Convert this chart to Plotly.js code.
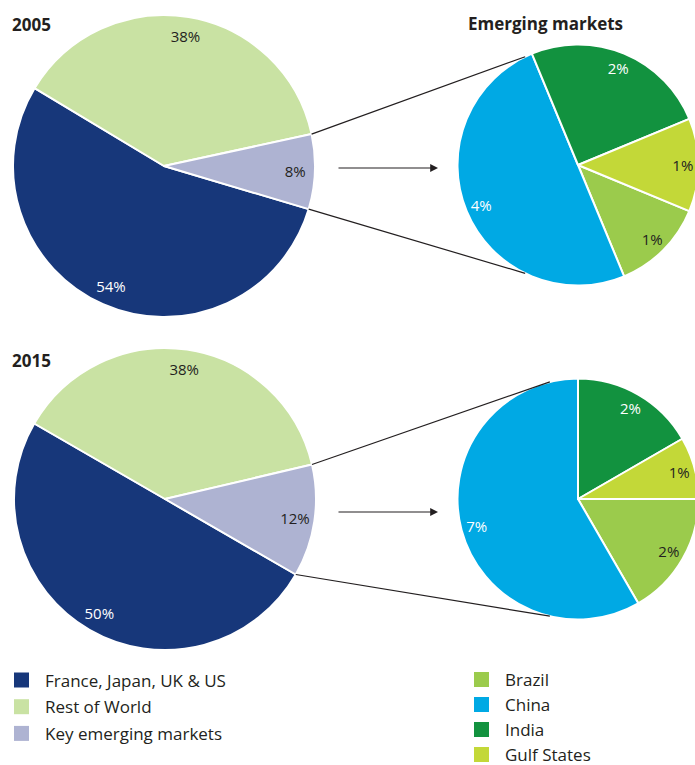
<!DOCTYPE html>
<html>
<head>
<meta charset="utf-8">
<script src="https://cdn.plot.ly/plotly-3.0.1.min.js"></script>
<style>
  html, body { margin: 0; padding: 0; overflow: hidden; background: #fff; }
</style>
</head>
<body>
<div id="chart"></div>
<script>
// Share of world total (%) by group
const mainLabels = ['France, Japan, UK & US', 'Rest of World', 'Key emerging markets'];
const main2005 = [54, 38, 8];
const main2015 = [50, 38, 12];

// Split of the key emerging markets (% of world total)
const emLabels = ['Brazil', 'China', 'India', 'Gulf States'];
const em2005 = [1, 4, 2, 1];
const em2015 = [2, 7, 2, 1];

const mainColors = ['#17377a', '#c9e2a3', '#aeb3d2'];
const emColors = ['#9bcb4c', '#00a9e4', '#12923f', '#c3d838'];
const mainTextColors = ['#ffffff', '#231f20', '#231f20'];
const emTextColors = ['#231f20', '#ffffff', '#ffffff', '#231f20'];

const W = 700, H = 765;
const FONT = '"Open Sans", sans-serif';
const INK = '#231f20';

// where each pie sits (pixels) and where its first slice starts
const pies = {
  main2005: { cx: 164, cy: 166, r: 151, rot: 106.6 },
  em2005:   { cx: 578, cy: 165, r: 120.5, rot: 112.5 },
  main2015: { cx: 165, cy: 499, r: 151, rot: 120 },
  em2015:   { cx: 578, cy: 499, r: 120.5, rot: 90 },
};

const px = x => x / W;
const py = y => 1 - y / H;

function domain(p) {
  return { x: [px(p.cx - p.r), px(p.cx + p.r)], y: [py(p.cy + p.r), py(p.cy - p.r)] };
}

// filled pie plus a transparent ring on top that carries the labels near the rim
function pieTraces(values, labels, colors, textColors, p) {
  const base = {
    type: 'pie', values: values, labels: labels, sort: false,
    direction: 'clockwise', rotation: p.rot, domain: domain(p),
    showlegend: false, hoverinfo: 'none',
  };
  return [
    Object.assign({}, base, {
      marker: { colors: colors, line: { color: '#ffffff', width: 2 } },
      textinfo: 'none',
    }),
    Object.assign({}, base, {
      hole: 0.74,
      marker: { colors: values.map(() => 'rgba(0,0,0,0)'), line: { width: 0 } },
      texttemplate: '%{value}%',
      textposition: 'inside',
      insidetextorientation: 'horizontal',
      textfont: { family: FONT, size: 15, color: textColors },
    }),
  ];
}

// point on a pie rim, angle in degrees clockwise from 12 o'clock
function rim(p, deg) {
  const a = deg * Math.PI / 180;
  return [p.cx + p.r * Math.sin(a), p.cy - p.r * Math.cos(a)];
}

function line(a, b) {
  return {
    type: 'line', xref: 'paper', yref: 'paper',
    x0: px(a[0]), y0: py(a[1]), x1: px(b[0]), y1: py(b[1]),
    line: { color: INK, width: 1.2 },
  };
}

// lines from the emerging-markets slice to the zoomed pie
function connectors(values, big, small, reach) {
  const total = values.reduce((s, v) => s + v, 0);
  const start = big.rot + 360 * (values[0] + values[1]) / total;
  const end = big.rot + 360;
  return [
    line(rim(big, start), rim(small, -reach)),
    line(rim(big, end), rim(small, 180 + reach)),
  ];
}

function arrow(y) {
  return {
    xref: 'paper', yref: 'paper', x: px(438), y: py(y), ax: -101, ay: 0,
    text: '', showarrow: true, arrowhead: 2, arrowsize: 1.3, arrowwidth: 1.2,
    arrowcolor: INK, standoff: 0,
  };
}

function label(text, x, y, size, anchor) {
  return {
    xref: 'paper', yref: 'paper', x: px(x), y: py(y), text: text, showarrow: false,
    xanchor: anchor || 'left', yanchor: 'middle', borderpad: 0,
    font: { family: FONT, size: size, color: INK },
  };
}

const shapes = []
  .concat(connectors(main2005, pies.main2005, pies.em2005, 26))
  .concat(connectors(main2015, pies.main2015, pies.em2015, 13.5));

const annotations = [
  label('<b>2005</b>', 11, 25, 17),
  label('<b>2015</b>', 11, 360.5, 17),
  label('<b>Emerging markets</b>', 545, 23.5, 17, 'center'),
  arrow(168),
  arrow(512),
];

// legend drawn as squares and text
function legendColumn(labels, colors, x, y0, step) {
  labels.forEach((name, i) => {
    const y = y0 + i * step;
    shapes.push({
      type: 'rect', xref: 'paper', yref: 'paper',
      x0: px(x), x1: px(x + 15), y0: py(y - 7.5), y1: py(y + 7.5),
      fillcolor: colors[i], line: { width: 0 },
    });
    annotations.push(label(name, x + 30, y, 17));
  });
}
legendColumn(mainLabels, mainColors, 14, 680, 26.7);
legendColumn(emLabels, emColors, 474, 679.5, 25);

const data = []
  .concat(pieTraces(main2005, mainLabels, mainColors, mainTextColors, pies.main2005))
  .concat(pieTraces(em2005, emLabels, emColors, emTextColors, pies.em2005))
  .concat(pieTraces(main2015, mainLabels, mainColors, mainTextColors, pies.main2015))
  .concat(pieTraces(em2015, emLabels, emColors, emTextColors, pies.em2015));

Plotly.newPlot('chart', data, {
  width: W,
  height: H,
  margin: { t: 0, r: 0, b: 0, l: 0, pad: 0 },
  paper_bgcolor: '#ffffff',
  font: { family: FONT, color: INK },
  showlegend: false,
  shapes: shapes,
  annotations: annotations,
}, { displayModeBar: false });
</script>
</body>
</html>
